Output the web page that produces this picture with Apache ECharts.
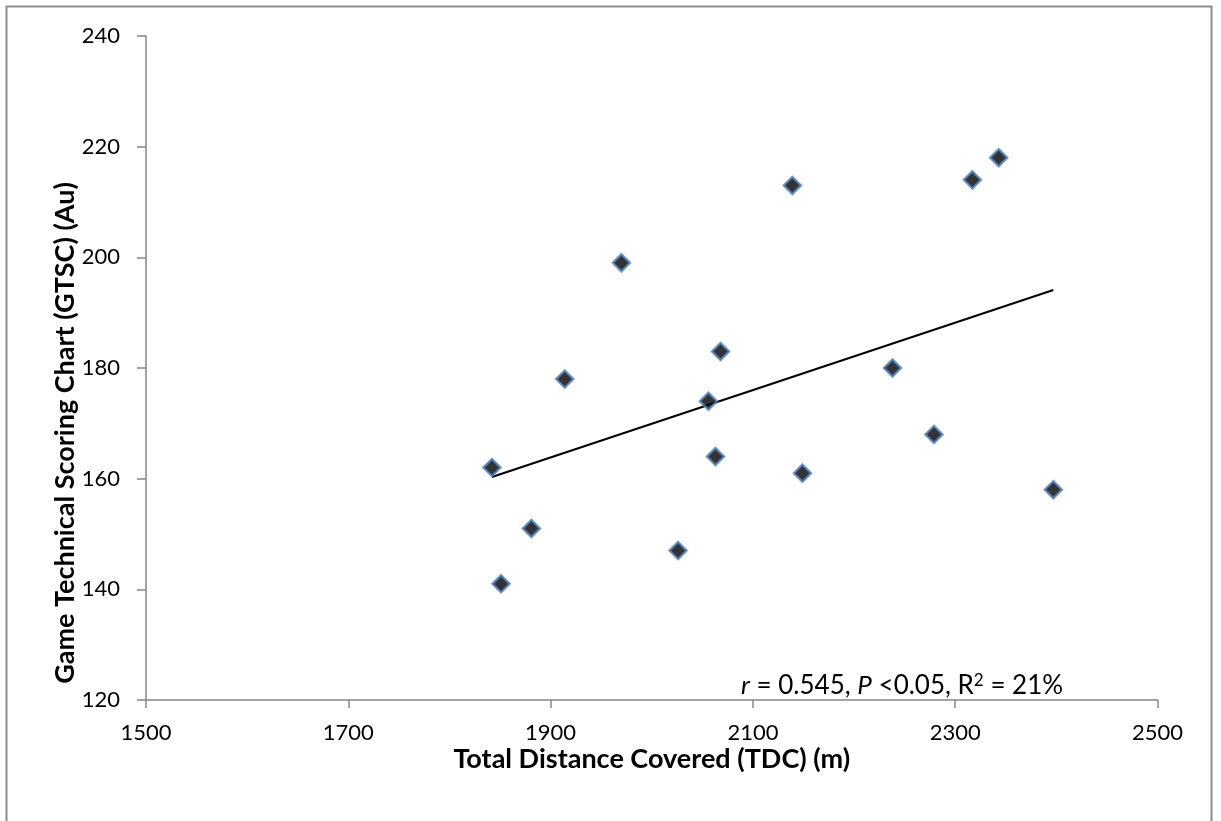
<!DOCTYPE html>
<html>
<head>
<meta charset="utf-8">
<script src="https://cdn.jsdelivr.net/npm/echarts@6/dist/echarts.min.js"></script>
<style>
  html, body { margin: 0; padding: 0; background: #fff; }
  #chart { width: 1221px; height: 821px; }
</style>
</head>
<body>
<div id="chart"></div>
<script>
// TDC (m) vs GTSC (Au)
var tdc = [1842, 1851, 1881, 1914, 1970, 2026, 2056, 2063, 2068, 2139, 2149, 2238, 2279, 2317, 2343, 2397];
var gtsc = [162, 141, 151, 178, 199, 147, 174, 164, 183, 213, 161, 180, 168, 214, 218, 158];
// linear trend line end points
var trendX = [1842, 2397];
var trendY = [160.3, 194.1];
var xTicks = [1500, 1700, 1900, 2100, 2300, 2500];
var yTicks = [120, 140, 160, 180, 200, 220, 240];

var points = tdc.map(function (x, i) { return [x, gtsc[i]]; });
var trend = trendX.map(function (x, i) { return [x, trendY[i]]; });

var fnt = 'Lato, "Open Sans", sans-serif';
var axisGray = '#868686';

var myChart = echarts.init(document.getElementById('chart'));
var option = {
    animation: false,
    backgroundColor: '#fff',
    grid: { left: 146, right: 63.5, top: 36, bottom: 121 },
    xAxis: {
        type: 'value',
        min: xTicks[0],
        max: xTicks[xTicks.length - 1],
        interval: 200,
        name: 'Total Distance Covered (TDC) (m)',
        nameLocation: 'middle',
        nameGap: 46,
        nameMoveOverlap: false,
        nameTextStyle: { fontFamily: fnt, fontSize: 27, fontWeight: 'bold', color: '#000' },
        splitLine: { show: false },
        axisLine: { lineStyle: { color: axisGray, width: 1.5 } },
        axisTick: { length: 8, lineStyle: { color: axisGray, width: 1.5 } },
        axisLabel: {
            fontFamily: fnt, fontSize: 22, color: '#000', margin: 22,
            formatter: function (v) { return String(v); }
        }
    },
    yAxis: {
        type: 'value',
        min: yTicks[0],
        max: yTicks[yTicks.length - 1],
        interval: 20,
        name: 'Game Technical Scoring Chart (GTSC) (Au)',
        nameLocation: 'middle',
        nameGap: 67,
        nameMoveOverlap: false,
        nameTextStyle: {
            fontFamily: fnt, fontSize: 27, fontWeight: 'bold', color: '#000',
            padding: [0, 130, 0, 0]
        },
        splitLine: { show: false },
        axisLine: { show: true, lineStyle: { color: axisGray, width: 1.5 } },
        axisTick: { show: true, length: 9, lineStyle: { color: axisGray, width: 1.5 } },
        axisLabel: { fontFamily: fnt, fontSize: 22, color: '#000', margin: 26 }
    },
    series: [
        {
            type: 'line',
            data: trend,
            symbol: 'none',
            lineStyle: { color: '#000', width: 2 },
            z: 2
        },
        {
            type: 'scatter',
            data: points,
            symbol: 'diamond',
            symbolSize: 17,
            itemStyle: { color: '#000', borderColor: '#4F81BD', borderWidth: 2.5 },
            z: 3
        }
    ],
    graphic: [
        {
            type: 'rect',
            shape: { x: 6.5, y: 6.5, width: 1205, height: 840 },
            style: { fill: 'none', stroke: '#8c8c8c', lineWidth: 2 },
            silent: true
        },
        {
            type: 'text',
            left: 741,
            top: 672,
            style: {
                text: '{i|r} = 0.545, {i|P} <0.05, R{sup|2} = 21%',
                fontFamily: fnt,
                fontSize: 26,
                fill: '#000',
                rich: {
                    i: { fontFamily: fnt, fontSize: 26, fontStyle: 'italic', fill: '#000' },
                    sup: { fontFamily: fnt, fontSize: 17, fill: '#000', verticalAlign: 'top', padding: [0, 0, 11, 0] }
                }
            }
        }
    ]
};
myChart.setOption(option);
</script>
</body>
</html>
